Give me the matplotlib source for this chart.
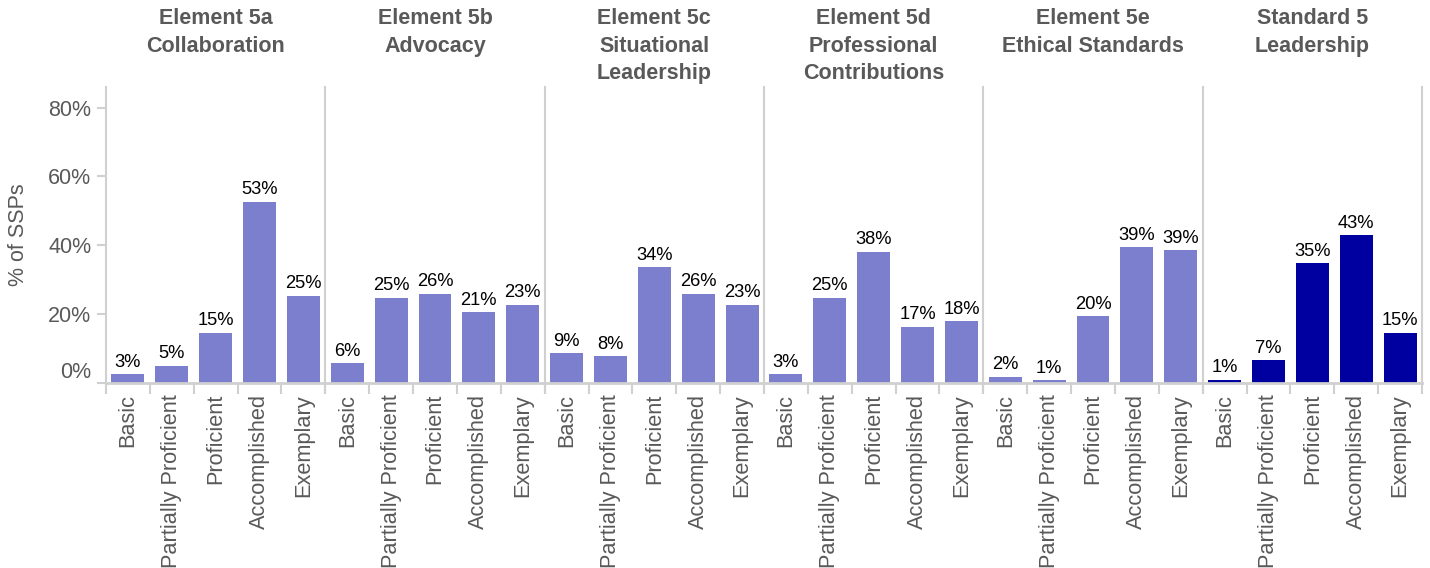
import matplotlib
matplotlib.use("Agg")
import matplotlib.pyplot as plt
from matplotlib.ticker import FixedLocator

plt.rcParams['font.family'] = ['Liberation Sans', 'DejaVu Sans']

categories = ["Basic", "Partially Proficient", "Proficient", "Accomplished", "Exemplary"]
panel_titles = [
    "Element 5a\nCollaboration",
    "Element 5b\nAdvocacy",
    "Element 5c\nSituational\nLeadership",
    "Element 5d\nProfessional\nContributions",
    "Element 5e\nEthical Standards",
    "Standard 5\nLeadership",
]
values_5a = [2.6, 5.0, 14.6, 52.6, 25.4]
values_5b = [5.8, 24.8, 26.0, 20.6, 22.8]
values_5c = [8.6, 7.8, 33.6, 26.0, 22.8]
values_5d = [2.6, 24.8, 38.2, 16.4, 18.0]
values_5e = [1.8, 0.8, 19.4, 39.4, 38.6]
values_std5 = [1.0, 6.6, 34.8, 43.0, 14.6]
labels_5a = ["3%", "5%", "15%", "53%", "25%"]
labels_5b = ["6%", "25%", "26%", "21%", "23%"]
labels_5c = ["9%", "8%", "34%", "26%", "23%"]
labels_5d = ["3%", "25%", "38%", "17%", "18%"]
labels_5e = ["2%", "1%", "20%", "39%", "39%"]
labels_std5 = ["1%", "7%", "35%", "43%", "15%"]

all_values = [values_5a, values_5b, values_5c, values_5d, values_5e, values_std5]
all_labels = [labels_5a, labels_5b, labels_5c, labels_5d, labels_5e, labels_std5]
yticks = [0, 20, 40, 60, 80]
ytick_labels = ["0%", "20%", "40%", "60%", "80%"]

light = "#7B7FCE"
dark = "#0000A0"
text_grey = "#595959"
axis_grey = "#D0D0D0"

W, H = 1430, 568
fig = plt.figure(figsize=(W / 100, H / 100), dpi=100)

left_px, right_px = 106, 1422
top_px, bottom_px = 87, 383
n = len(all_values)
pw = (right_px - left_px) / n

for i, (vals, labs, title) in enumerate(zip(all_values, all_labels, panel_titles)):
    ax = fig.add_axes([(left_px + i * pw) / W, 1 - bottom_px / H, pw / W, (bottom_px - top_px) / H])
    color = dark if i == n - 1 else light
    xs = list(range(len(categories)))
    bars = ax.bar(xs, vals, width=0.75, color=color)
    for b, lab in zip(bars, labs):
        ax.annotate(lab, (b.get_x() + b.get_width() / 2, b.get_height()),
                    xytext=(0, 2.5), textcoords="offset points",
                    ha="center", va="bottom", fontsize=13.2, color="black")
    ax.set_xlim(-0.5, len(categories) - 0.5)
    ax.set_ylim(0, 86)
    ax.set_xticks(xs)
    ax.set_xticklabels(categories, rotation=90, fontsize=15.7, color=text_grey)
    ax.xaxis.set_minor_locator(FixedLocator([k - 0.5 for k in range(len(categories) + 1)]))
    ax.tick_params(axis="x", which="major", length=0, pad=8)
    ax.tick_params(axis="x", which="minor", length=8, width=1.5, color=axis_grey)
    for s in ["top", "right"]:
        ax.spines[s].set_visible(False)
    if i == n - 1:
        ax.spines["right"].set_visible(True)
        ax.spines["right"].set_color(axis_grey)
        ax.spines["right"].set_linewidth(1.5)
    ax.spines["left"].set_color(axis_grey)
    ax.spines["left"].set_linewidth(1.5)
    ax.spines["bottom"].set_color(axis_grey)
    ax.spines["bottom"].set_linewidth(2)
    if i == 0:
        ax.set_yticks(yticks)
        ax.set_yticklabels(ytick_labels, fontsize=15.5, color=text_grey)
        ax.tick_params(axis="y", length=6.5, width=1.5, color=axis_grey, pad=4)
        lab0 = ax.get_yticklabels()[0]
        lab0.set_va("bottom")
        lab0.set_y(3)
        ax.set_ylabel("% of SSPs", fontsize=15.5, color=text_grey, labelpad=14)
    else:
        ax.set_yticks([])
    cx = (left_px + (i + 0.5) * pw) / W
    fig.text(cx, 1 - 8 / H, title, ha="center", va="top", fontsize=15.5,
             fontweight="bold", color=text_grey, linespacing=1.42)

fig.savefig("out.png", dpi=100)
